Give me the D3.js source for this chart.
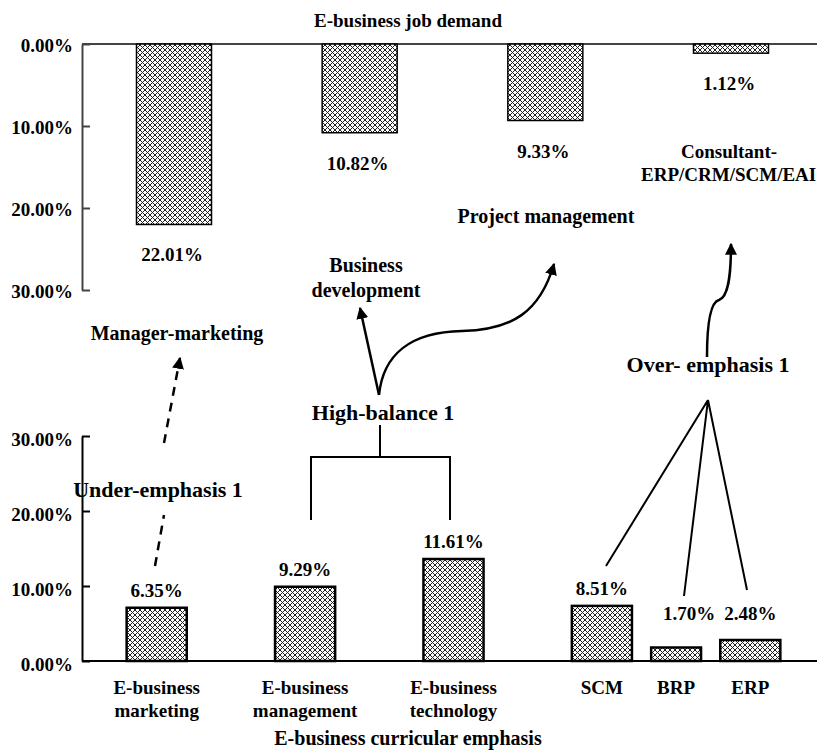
<!DOCTYPE html>
<html>
<head>
<meta charset="utf-8">
<script src="https://cdn.jsdelivr.net/npm/d3@7"></script>
<style>
  html, body { margin: 0; padding: 0; background: #fff; }
  svg text { font-family: "Liberation Serif", "Times New Roman", serif; font-weight: bold; fill: #000; }
</style>
</head>
<body>
<svg id="chart" width="817" height="756"></svg>
<script>
// ---------------- DATA ----------------
const demandCategories = ["Manager-marketing", "Business development", "Project management", "Consultant-ERP/CRM/SCM/EAI"];
const demandValues = [22.01, 10.82, 9.33, 1.12];
const demandLabels = ["22.01%", "10.82%", "9.33%", "1.12%"];

const emphasisCategories = ["E-business marketing", "E-business management", "E-business technology", "SCM", "BRP", "ERP"];
const emphasisBarHeights = [7.1, 9.9, 13.6, 7.35, 1.8, 2.8];   // bar heights as drawn in the picture
const emphasisLabels = ["6.35%", "9.29%", "11.61%", "8.51%", "1.70%", "2.48%"];
const emphasisSlots = ["E-business marketing", "gap1", "E-business management", "gap2", "E-business technology", "gap3", "SCM", "BRP", "ERP"];

const yTicks = [0, 10, 20, 30];
const topTitle = "E-business job demand";
const bottomTitle = "E-business curricular emphasis";

// ---------------- SETUP ----------------
const svg = d3.select("#chart");
const fmt = d => d3.format(".2f")(d) + "%";

// pattern
const defs = svg.append("defs");
const pat = defs.append("pattern").attr("id", "hatch").attr("patternUnits", "userSpaceOnUse")
  .attr("width", 5).attr("height", 5);
pat.append("rect").attr("width", 5).attr("height", 5).attr("fill", "#fff");
pat.append("path").attr("d", "M0,0 L5,5 M5,0 L0,5 M-1,4 L1,6 M4,-1 L6,1 M4,6 L6,4 M-1,1 L1,-1")
  .attr("stroke", "#222").attr("stroke-width", 1);

const mk = defs.append("marker").attr("id", "arrow").attr("viewBox", "0 0 10 10")
  .attr("refX", 9).attr("refY", 5).attr("markerWidth", 12).attr("markerHeight", 12)
  .attr("markerUnits", "userSpaceOnUse").attr("orient", "auto");
mk.append("path").attr("d", "M0,0 L10,5 L0,10 Z").attr("fill", "#000");

// ---------------- TOP CHART ----------------
const axisX = 82;
const yTop = d3.scaleLinear().domain([0, 30]).range([44, 290]);
const xTop = d3.scalePoint().domain(demandCategories).range([174, 731]);
const topBarW = 75;

svg.append("line").attr("x1", axisX).attr("x2", 817).attr("y1", yTop(0)).attr("y2", yTop(0))
  .attr("stroke", "#444").attr("stroke-width", 2);

const topAxis = svg.append("g").attr("transform", `translate(${axisX},0)`)
  .call(d3.axisLeft(yTop).tickValues(yTicks).tickFormat(fmt).tickSizeInner(-8).tickSizeOuter(0).tickPadding(9));
topAxis.select(".domain").attr("stroke", "#444").attr("stroke-width", 2);
topAxis.selectAll(".tick line").attr("stroke", "#444").attr("stroke-width", 2);
topAxis.selectAll(".tick text").attr("font-size", 19).attr("font-family", "Liberation Serif").attr("font-weight", "bold").attr("fill", "#000").attr("dy", "0.4em");

svg.append("g").selectAll("rect").data(demandCategories).join("rect")
  .attr("x", d => xTop(d) - topBarW / 2)
  .attr("y", yTop(0))
  .attr("width", topBarW)
  .attr("height", (d, i) => yTop(demandValues[i]) - yTop(0))
  .attr("fill", "url(#hatch)").attr("stroke", "#000").attr("stroke-width", 1.5);

svg.append("g").selectAll("text").data(demandCategories).join("text")
  .attr("x", d => xTop(d) - 2)
  .attr("y", (d, i) => yTop(demandValues[i]) + 37)
  .attr("text-anchor", "middle").attr("font-size", 19)
  .text((d, i) => demandLabels[i]);

svg.append("text").attr("x", 408).attr("y", 27).attr("text-anchor", "middle").attr("font-size", 19).text(topTitle);

// ---------------- BOTTOM CHART ----------------
const yBot = d3.scaleLinear().domain([0, 30]).range([661, 436]);
const xBot = d3.scaleBand().domain(emphasisSlots).range([119.6, 787.4]).paddingInner(0.19).paddingOuter(0.095);

const botAxis = svg.append("g").attr("transform", `translate(${axisX},0)`)
  .call(d3.axisLeft(yBot).tickValues(yTicks).tickFormat(fmt).tickSizeInner(-8).tickSizeOuter(0).tickPadding(9));
botAxis.select(".domain").attr("stroke", "#000").attr("stroke-width", 2);
botAxis.selectAll(".tick line").attr("stroke", "#000").attr("stroke-width", 2);
botAxis.selectAll(".tick text").attr("font-size", 19).attr("font-family", "Liberation Serif").attr("font-weight", "bold").attr("fill", "#000").attr("dy", "0.5em");

svg.append("line").attr("x1", axisX).attr("x2", 817).attr("y1", yBot(0)).attr("y2", yBot(0))
  .attr("stroke", "#000").attr("stroke-width", 2);

const bw = d => (d === "BRP" ? xBot.bandwidth() * 0.83 : xBot.bandwidth());
svg.append("g").selectAll("rect").data(emphasisCategories).join("rect")
  .attr("x", d => xBot(d) + xBot.bandwidth() / 2 - bw(d) / 2)
  .attr("y", (d, i) => yBot(emphasisBarHeights[i]))
  .attr("width", d => bw(d))
  .attr("height", (d, i) => yBot(0) - yBot(emphasisBarHeights[i]))
  .attr("fill", "url(#hatch)").attr("stroke", "#000").attr("stroke-width", 2.5);

svg.append("g").selectAll("text").data(emphasisCategories).join("text")
  .attr("x", (d, i) => xBot(d) + xBot.bandwidth() / 2 + (i === 4 ? 13 : 0))
  .attr("y", (d, i) => Math.min(yBot(emphasisBarHeights[i]) - 11, yBot(5.5)))
  .attr("text-anchor", "middle").attr("font-size", 19)
  .text((d, i) => emphasisLabels[i]);

// category labels (two lines for E-business ones)
const catG = svg.append("g");
emphasisCategories.forEach(d => {
  const cx = xBot(d) + xBot.bandwidth() / 2;
  const parts = d.startsWith("E-business") ? ["E-business", d.replace("E-business ", "")] : [d];
  const t = catG.append("text").attr("text-anchor", "middle").attr("font-size", 19);
  parts.forEach((p, j) => t.append("tspan").attr("x", cx).attr("y", 694 + j * 23).text(p));
});

svg.append("text").attr("x", 408).attr("y", 745).attr("text-anchor", "middle").attr("font-size", 20).text(bottomTitle);

// ---------------- ANNOTATIONS ----------------
const ann = svg.append("g");
function label(x, y, lines, size) {
  const t = ann.append("text").attr("text-anchor", "middle").attr("font-size", size);
  lines.forEach((l, j) => t.append("tspan").attr("x", x).attr("y", y + j * 25).text(l));
}
label(177, 340, ["Manager-marketing"], 20);
label(366, 272, ["Business", "development"], 20);
label(546, 223, ["Project management"], 20);
label(729, 158, ["Consultant-"], 19);
ann.append("text").attr("x", 641).attr("y", 181).attr("font-size", 19).text("ERP/CRM/SCM/EAI");

label(383, 420, ["High-balance 1"], 22);
label(158, 497, ["Under-emphasis 1"], 22);
label(708, 372, ["Over- emphasis 1"], 22);

const lineStyle = sel => sel.attr("fill", "none").attr("stroke", "#000").attr("stroke-width", 2.5);

// dashed under-emphasis arrow
ann.append("line").attr("x1", 155).attr("y1", 566).attr("x2", 164).attr("y2", 515)
  .call(lineStyle).attr("stroke-dasharray", "9,7");
ann.append("line").attr("x1", 164).attr("y1", 443).attr("x2", 180).attr("y2", 358)
  .call(lineStyle).attr("stroke-dasharray", "9,7").attr("marker-end", "url(#arrow)");

// high-balance arrows
ann.append("line").attr("x1", 379).attr("y1", 395).attr("x2", 360).attr("y2", 308)
  .call(lineStyle).attr("marker-end", "url(#arrow)");
ann.append("path").attr("d", "M379,395 C383,355 410,332 462,331 C512,330 540,312 554,264")
  .call(lineStyle).attr("marker-end", "url(#arrow)");

// bracket
ann.append("path").attr("d", "M380,425 L380,457 M311,520 L311,457 L450,457 L450,520")
  .call(lineStyle).attr("stroke-width", 2);

// over-emphasis
ann.append("path").attr("d", "M708,400 L606,566 M708,400 L684,596 M708,400 L747,590")
  .call(lineStyle).attr("stroke-width", 2);
ann.append("path").attr("d", "M707,357 C707,322 711,302 719,300 C728,297 731,278 731,244")
  .call(lineStyle).attr("marker-end", "url(#arrow)");
</script>
</body>
</html>
